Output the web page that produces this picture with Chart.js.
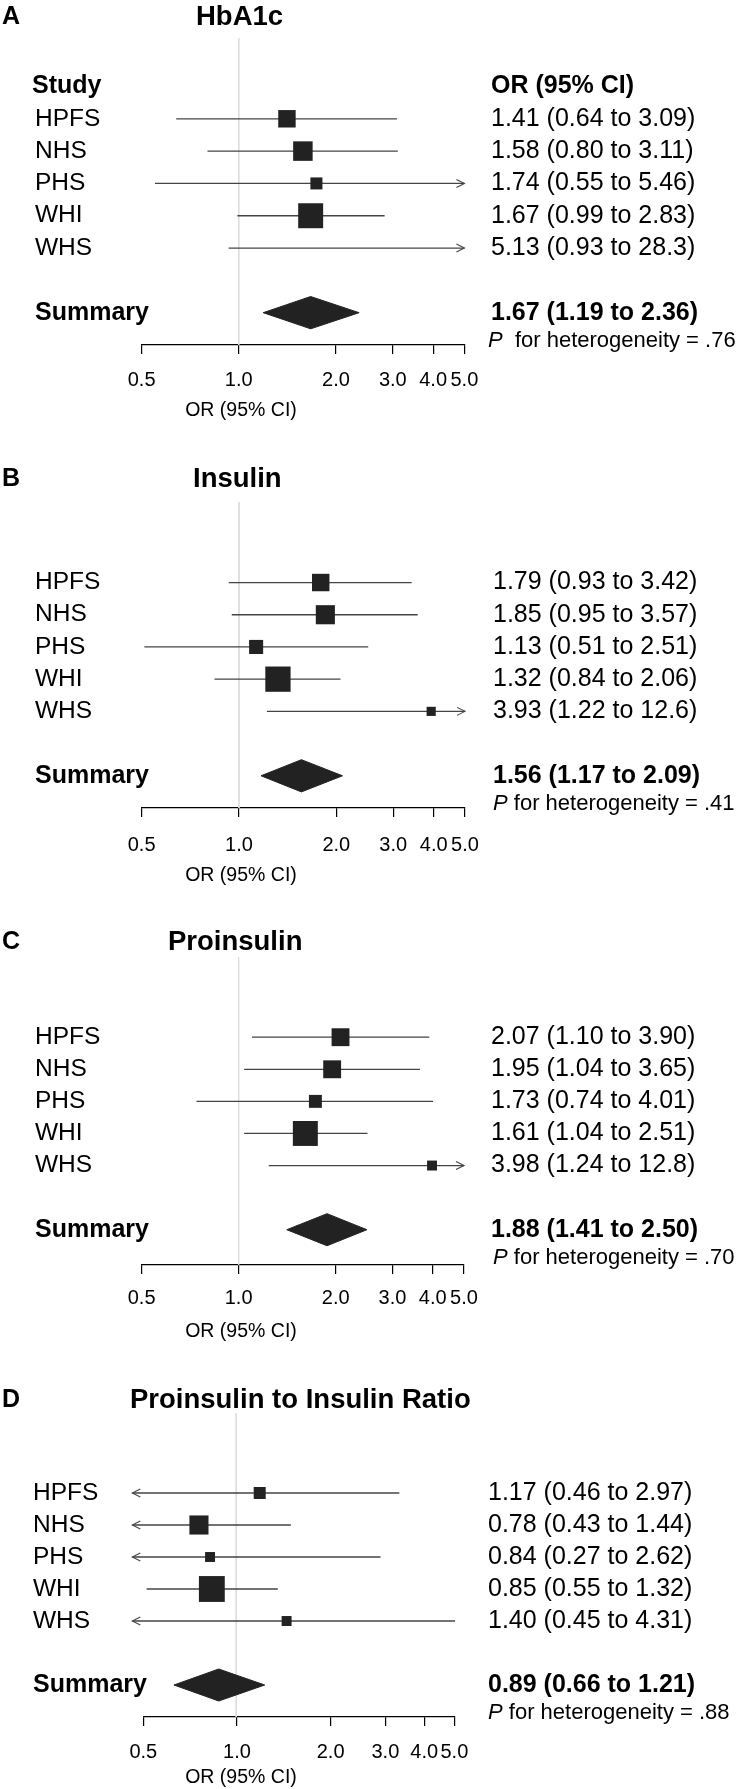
<!DOCTYPE html>
<html>
<head>
<meta charset="utf-8">
<title>Forest plots</title>
<script src="https://cdn.jsdelivr.net/npm/chart.js@4.4.1/dist/chart.umd.min.js"></script>
<style>
  body { margin: 0; background: #fff; }
  #wrap { position: relative; width: 740px; height: 1789px; }
  #wrap canvas { position: absolute; left: 0; }
</style>
</head>
<body>
<div id="wrap">
  <canvas id="panelA" width="740" height="430" style="top:0px"></canvas>
  <canvas id="panelB" width="740" height="430" style="top:464px"></canvas>
  <canvas id="panelC" width="740" height="430" style="top:919px"></canvas>
  <canvas id="panelD" width="740" height="414" style="top:1375px"></canvas>
</div>
<script>
const studies = ['HPFS', 'NHS', 'PHS', 'WHI', 'WHS'];
const tickValues = [0.5, 1, 2, 3, 4, 5];

// A - HbA1c
const hba1cOR = [1.41, 1.58, 1.74, 1.67, 5.13];
const hba1cLow = [0.64, 0.80, 0.55, 0.99, 0.93];
const hba1cHigh = [3.09, 3.11, 5.46, 2.83, 28.3];
const hba1cWeight = [20, 25, 9.5, 41, 5];      // relative weight
const hba1cSummary = [1.67, 1.19, 2.36];       // OR, low, high
const hba1cPhet = '.76';

// B - Insulin
const insulinOR = [1.79, 1.85, 1.13, 1.32, 3.93];
const insulinLow = [0.93, 0.95, 0.51, 0.84, 1.22];
const insulinHigh = [3.42, 3.57, 2.51, 2.06, 12.6];
const insulinWeight = [20, 24, 13, 42, 5.5];
const insulinSummary = [1.56, 1.17, 2.09];
const insulinPhet = '.41';

// C - Proinsulin
const proinsulinOR = [2.07, 1.95, 1.73, 1.61, 3.98];
const proinsulinLow = [1.10, 1.04, 0.74, 1.04, 1.24];
const proinsulinHigh = [3.90, 3.65, 4.01, 2.51, 12.8];
const proinsulinWeight = [21, 21, 11, 41, 6.5];
const proinsulinSummary = [1.88, 1.41, 2.50];
const proinsulinPhet = '.70';

// D - Proinsulin to insulin ratio
const ratioOR = [1.17, 0.78, 0.84, 0.85, 1.40];
const ratioLow = [0.46, 0.43, 0.27, 0.55, 0.45];
const ratioHigh = [2.97, 1.44, 2.62, 1.32, 4.31];
const ratioWeight = [9.5, 24, 6.5, 44, 6.5];
const ratioSummary = [0.89, 0.66, 1.21];
const ratioPhet = '.88';

const panels = [
  { id: 'panelA', letter: 'A', title: 'HbA1c', or: hba1cOR, low: hba1cLow, high: hba1cHigh, weight: hba1cWeight, summary: hba1cSummary, phet: hba1cPhet, header: true },
  { id: 'panelB', letter: 'B', title: 'Insulin', or: insulinOR, low: insulinLow, high: insulinHigh, weight: insulinWeight, summary: insulinSummary, phet: insulinPhet },
  { id: 'panelC', letter: 'C', title: 'Proinsulin', or: proinsulinOR, low: proinsulinLow, high: proinsulinHigh, weight: proinsulinWeight, summary: proinsulinSummary, phet: proinsulinPhet },
  { id: 'panelD', letter: 'D', title: 'Proinsulin to Insulin Ratio', or: ratioOR, low: ratioLow, high: ratioHigh, weight: ratioWeight, summary: ratioSummary, phet: ratioPhet }
];

// where each panel sits on its canvas
// (in D the printed axis is narrower than the scale the marks use, as in the original figure)
const layouts = [
  { left: 141.6, right: 464.4, chartBottom: 345, yMax: 7.0, tickPad: 14, titleX: 196, titleY: 17, labelX: 35, valueX: 491, pX: 488, pGap: '  ', axisTitleY: 411 },
  { left: 141.6, right: 465, chartBottom: 344, yMax: 7.0, tickPad: 16, titleX: 193, titleY: 15, labelX: 35, valueX: 493, pX: 493, pGap: ' ', axisTitleY: 412 },
  { left: 141.6, right: 464, chartBottom: 346, yMax: 7.1, tickPad: 12, titleX: 168, titleY: 23, labelX: 35, valueX: 491, pX: 493, pGap: ' ', axisTitleY: 413 },
  { left: 143.3, right: 454.4, chartBottom: 342, yMax: 7.0, tickPad: 14, titleX: 130, titleY: 25, labelX: 33, valueX: 488, pX: 488, pGap: ' ', axisTitleY: 403, dataMin: 0.538, dataMax: 4.29 }
];

const FONT = '"Liberation Sans", Arial, Helvetica, sans-serif';
const CLIP_LOW = 0.5, CLIP_HIGH = 5;
const BOX_SCALE = 39;   // box side in px for weight 100
const SUMMARY_ROW = 6;
const AXIS_HEIGHT = 70;
Chart.defaults.font.family = FONT;
Chart.defaults.color = '#000';

function fmt(v) {
  return v >= 10 ? v.toFixed(1) : v.toFixed(2);
}

function ciText(v, lo, hi) {
  return fmt(v) + ' (' + fmt(lo) + ' to ' + fmt(hi) + ')';
}

function arrowHead(ctx, tx, ty, dir) {
  ctx.beginPath();
  ctx.moveTo(tx - dir * 8, ty - 4);
  ctx.lineTo(tx, ty);
  ctx.lineTo(tx - dir * 8, ty + 4);
  ctx.stroke();
}

function buildDatasets(p, lay) {
  const datasets = [];

  const boxPts = [];
  const boxR = [];
  p.or.forEach((v, i) => {
    if (v >= CLIP_LOW && v <= CLIP_HIGH) {
      boxPts.push({ x: v, y: i });
      boxR.push(BOX_SCALE * Math.sqrt(p.weight[i] / 100) / Math.SQRT2);
    }
  });
  datasets.push({
    type: 'scatter', data: boxPts, pointStyle: 'rect', pointRadius: boxR,
    backgroundColor: '#222', borderWidth: 0, order: 0, clip: false
  });

  const [est, sLo, sHi] = p.summary;
  datasets.push({
    type: 'line',
    data: [
      { x: sLo, y: SUMMARY_ROW }, { x: est, y: SUMMARY_ROW - 0.5 },
      { x: sHi, y: SUMMARY_ROW }, { x: est, y: SUMMARY_ROW + 0.5 }, { x: sLo, y: SUMMARY_ROW }
    ],
    borderColor: '#222', borderWidth: 1, backgroundColor: '#222', fill: 'shape',
    pointRadius: 0, tension: 0, order: 1, clip: false
  });

  p.low.forEach((lo, i) => {
    datasets.push({
      type: 'line',
      data: [{ x: Math.max(lo, CLIP_LOW), y: i }, { x: Math.min(p.high[i], CLIP_HIGH), y: i }],
      borderColor: '#444', borderWidth: 1.3, pointRadius: 0, order: 2, clip: false
    });
  });

  // line of no effect
  datasets.push({
    type: 'line', data: [{ x: 1, y: -2.5 }, { x: 1, y: lay.yMax }],
    borderColor: '#dcdcdc', borderWidth: 1, pointRadius: 0, order: 3
  });
  return datasets;
}

const forestText = {
  id: 'forestText',
  afterDraw(chart, args, opts) {
    const { ctx, scales: { x, y } } = chart;
    const p = opts.panel;
    const lay = opts.layout;
    ctx.save();

    ctx.strokeStyle = '#444';
    ctx.lineWidth = 1.1;
    p.low.forEach((lo, i) => {
      const py = y.getPixelForValue(i);
      if (lo < CLIP_LOW) arrowHead(ctx, x.getPixelForValue(CLIP_LOW), py, -1);
      if (p.high[i] > CLIP_HIGH) arrowHead(ctx, x.getPixelForValue(CLIP_HIGH), py, 1);
    });

    ctx.fillStyle = '#000';
    ctx.textBaseline = 'middle';
    ctx.textAlign = 'left';

    ctx.font = 'bold 25px ' + FONT;
    ctx.fillText(p.letter, 2, lay.titleY);
    ctx.font = 'bold 27.5px ' + FONT;
    ctx.fillText(p.title, lay.titleX, lay.titleY);

    if (p.header) {
      const hy = y.getPixelForValue(-1);
      ctx.font = 'bold 25px ' + FONT;
      ctx.fillText('Study', 32, hy);
      ctx.fillText('OR (95% CI)', lay.valueX, hy);
    }

    studies.forEach((s, i) => {
      const py = y.getPixelForValue(i);
      ctx.font = '24.5px ' + FONT;
      ctx.fillText(s, lay.labelX, py);
      ctx.font = '25px ' + FONT;
      ctx.fillText(ciText(p.or[i], p.low[i], p.high[i]), lay.valueX, py);
    });

    const sy = y.getPixelForValue(SUMMARY_ROW);
    ctx.font = 'bold 25px ' + FONT;
    ctx.fillText('Summary', lay.labelX, sy);
    ctx.fillText(ciText(p.summary[0], p.summary[1], p.summary[2]), lay.valueX, sy);

    const py = y.getPixelForValue(6.87);
    ctx.font = 'italic 22px ' + FONT;
    ctx.fillText('P', lay.pX, py);
    const pw = ctx.measureText('P').width;
    ctx.font = '22px ' + FONT;
    ctx.fillText(lay.pGap + 'for heterogeneity = ' + p.phet, lay.pX + pw, py);

    ctx.font = '19.5px ' + FONT;
    ctx.textAlign = 'center';
    ctx.fillText('OR (95% CI)', 241, lay.axisTitleY);
    ctx.restore();
  }
};

panels.forEach((p, k) => {
  const lay = layouts[k];
  const canvas = document.getElementById(p.id);
  new Chart(canvas.getContext('2d'), {
    type: 'scatter',
    data: { datasets: buildDatasets(p, lay) },
    options: {
      responsive: false,
      animation: false,
      events: [],
      layout: {
        padding: { left: lay.left, right: 740 - lay.right, top: 38, bottom: canvas.height - lay.chartBottom - AXIS_HEIGHT }
      },
      plugins: {
        legend: { display: false },
        tooltip: { enabled: false },
        forestText: { panel: p, layout: lay }
      },
      scales: {
        x: { type: 'logarithmic', display: false, min: lay.dataMin || CLIP_LOW, max: lay.dataMax || CLIP_HIGH },
        y: { type: 'linear', display: false, min: -2.5, max: lay.yMax, reverse: true },
        xt: {
          type: 'logarithmic', position: 'bottom', min: 0.5, max: 5,
          afterBuildTicks: s => { s.ticks = tickValues.map(v => ({ value: v })); },
          afterFit: s => { s.height = AXIS_HEIGHT; },
          grid: { display: true, drawOnChartArea: false, drawTicks: true, tickLength: 9, color: '#000', lineWidth: 1.2 },
          border: { display: true, color: '#000', width: 1.2 },
          ticks: {
            autoSkip: false, maxRotation: 0, padding: lay.tickPad, color: '#000',
            font: { size: 20 },
            callback: v => Number(v).toFixed(1)
          }
        }
      }
    },
    plugins: [forestText]
  });
});
</script>
</body>
</html>
